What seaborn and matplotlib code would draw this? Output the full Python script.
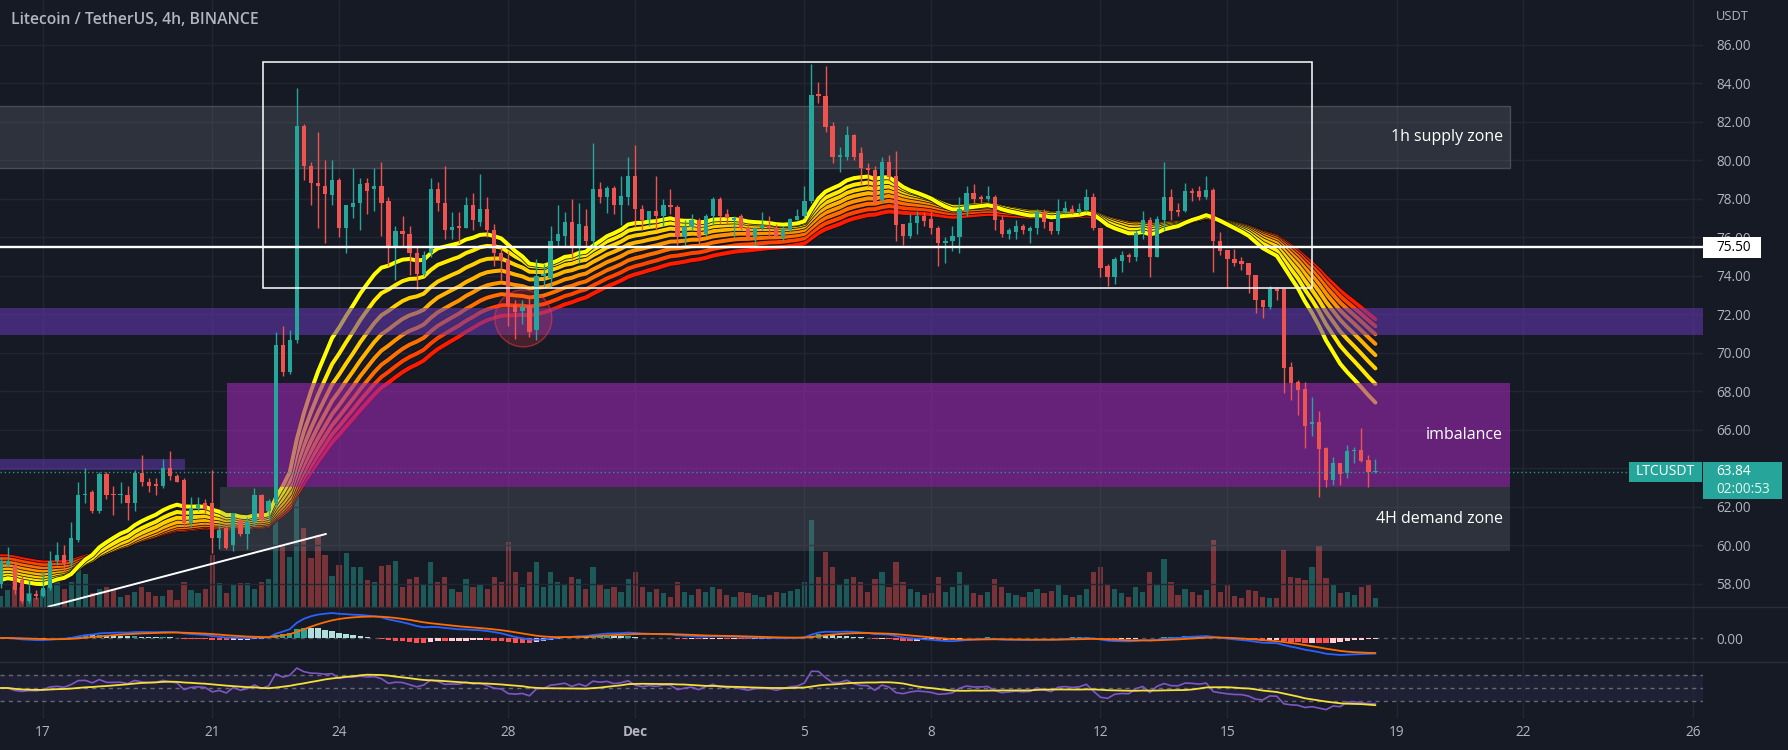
import numpy as np
import pandas as pd
import matplotlib
matplotlib.use("Agg")
import matplotlib.pyplot as plt
import matplotlib.patheffects as pe
import matplotlib.transforms as mtransforms
from matplotlib.patches import Rectangle, Ellipse
from matplotlib.lines import Line2D
import seaborn as sns

# ---------------- data (LTC/USDT 4h candles) ----------------
opens = [
    58.0, 59.0, 59.0, 58.2, 57.1, 57.5, 57.4, 57.8, 59.2, 59.5,
    59.1, 60.3, 62.6, 62.8, 61.8, 63.7, 62.7, 62.6, 62.6, 62.2,
    63.75, 63.3, 63.2, 63.1, 64.0, 63.6, 63.4, 61.15, 61.9, 62.2,
    62.2, 60.37, 60.9, 60.0, 61.3, 60.6, 61.2, 62.6, 61.8, 62.2,
    70.4, 69.0, 70.7, 81.8, 79.7, 78.85, 78.7, 78.2, 79.0, 76.5,
    77.6, 77.8, 78.85, 78.5, 78.7, 77.9, 75.5, 76.35, 76.2, 75.2,
    74.1, 75.2, 78.5, 77.8, 76.4, 76.6, 76.5, 77.7, 76.8, 77.5,
    76.4, 75.2, 74.85, 72.5, 72.2, 72.5, 71.2, 74.0, 73.9, 75.8,
    76.1, 76.8, 75.5, 76.6, 75.8, 78.5, 78.1, 78.55, 77.7, 78.1,
    79.2, 77.5, 76.9, 77.4, 77.1, 77.7, 77.6, 76.0, 76.55, 76.9,
    76.2, 77.1, 78.0, 77.2, 76.9, 77.1, 76.5, 76.0, 76.5, 76.6,
    76.5, 76.0, 76.4, 76.9, 77.1, 77.9, 83.45, 83.35, 81.8, 80.2,
    80.2, 81.3, 80.4, 79.6, 79.5, 77.95, 79.9, 79.2, 76.7, 76.1,
    76.75, 77.1, 76.95, 76.5, 75.7, 75.8, 76.05, 77.4, 78.3, 78.1,
    78.0, 78.1, 76.9, 76.2, 76.3, 76.6, 76.35, 76.5, 77.3, 76.8,
    76.35, 77.35, 77.5, 77.3, 77.45, 78.1, 76.5, 74.5, 73.96, 74.8,
    75.1, 75.0, 76.25, 76.9, 75.0, 76.9, 78.1, 77.45, 77.4, 78.4,
    78.4, 78.1, 78.45, 75.8, 75.35, 74.9, 74.8, 74.7, 74.05, 72.75,
    72.4, 73.3, 73.3, 69.25, 68.5, 68.15, 66.3, 66.4, 65.05, 63.4,
    64.3, 63.75, 64.9, 64.95, 64.45, 63.8,
]
highs = [
    59.4, 59.9, 59.2, 58.4, 58.2, 57.7, 58.6, 59.7, 60.2, 60.0,
    61.2, 63.3, 64.0, 62.9, 63.8, 63.8, 63.1, 63.3, 63.1, 63.9,
    64.7, 63.5, 63.5, 64.5, 64.9, 63.7, 63.5, 62.5, 62.5, 62.4,
    63.9, 61.15, 61.0, 61.7, 61.4, 61.5, 63.0, 62.7, 62.4, 71.1,
    71.4, 71.2, 83.75, 81.9, 79.9, 81.5, 80.0, 80.0, 79.1, 77.7,
    79.6, 79.1, 79.1, 79.6, 79.9, 78.1, 76.6, 77.1, 76.6, 75.5,
    75.3, 79.1, 78.9, 79.7, 77.3, 77.3, 78.1, 78.3, 79.3, 78.1,
    76.7, 75.5, 75.3, 72.75, 72.75, 72.8, 74.9, 74.6, 76.6, 77.7,
    77.3, 78.0, 77.8, 77.5, 80.9, 78.9, 78.7, 78.7, 79.2, 80.2,
    80.8, 77.7, 77.4, 79.2, 78.0, 78.5, 77.7, 76.9, 77.2, 77.0,
    77.2, 78.1, 78.1, 77.5, 77.1, 77.2, 76.7, 76.5, 77.3, 77.1,
    76.7, 76.6, 77.0, 77.5, 78.7, 85.0, 84.1, 84.9, 82.0, 80.7,
    81.8, 81.4, 80.7, 79.85, 79.7, 80.2, 80.3, 80.5, 76.7, 77.2,
    77.4, 77.3, 77.4, 76.6, 76.0, 76.6, 78.1, 78.7, 78.8, 78.2,
    78.7, 78.2, 77.1, 76.5, 76.9, 76.7, 76.6, 77.5, 77.5, 76.8,
    78.0, 77.9, 77.7, 77.8, 78.5, 78.3, 76.5, 74.6, 75.0, 75.3,
    75.2, 76.4, 77.4, 77.05, 77.1, 79.94, 78.5, 77.8, 78.85, 78.55,
    78.7, 79.2, 78.55, 76.3, 75.35, 75.4, 75.0, 74.7, 74.05, 72.75,
    73.5, 73.45, 73.36, 69.55, 68.6, 68.5, 67.7, 67.0, 65.1, 64.6,
    64.3, 65.2, 65.1, 66.1, 64.7, 64.5,
]
lows = [
    57.8, 58.9, 57.5, 57.0, 57.0, 57.2, 57.3, 57.7, 59.0, 58.6,
    58.9, 60.2, 62.2, 61.7, 61.7, 62.4, 61.6, 62.2, 61.3, 61.8,
    63.1, 62.8, 62.6, 63.0, 63.4, 63.3, 60.97, 60.97, 61.8, 61.7,
    59.6, 59.8, 59.8, 59.7, 60.5, 59.8, 61.0, 61.2, 61.3, 62.0,
    68.8, 68.9, 70.5, 79.0, 77.7, 76.5, 75.7, 77.7, 76.0, 75.2,
    77.0, 76.4, 77.2, 77.4, 76.1, 74.5, 73.8, 75.5, 74.05, 73.3,
    74.0, 75.0, 77.4, 75.9, 75.9, 75.7, 76.5, 76.4, 76.6, 76.0,
    74.5, 73.8, 71.4, 70.75, 71.5, 70.85, 70.7, 73.4, 73.4, 75.5,
    75.5, 74.9, 74.7, 75.5, 75.4, 77.8, 77.25, 77.2, 76.65, 77.7,
    76.56, 76.4, 76.6, 76.4, 76.6, 77.2, 75.6, 75.6, 76.4, 75.6,
    76.1, 76.7, 76.7, 76.7, 76.0, 76.4, 75.9, 75.5, 76.4, 76.0,
    76.0, 75.8, 76.3, 76.9, 77.0, 77.8, 83.0, 81.5, 79.85, 79.4,
    80.0, 80.0, 78.8, 78.6, 77.75, 77.8, 79.0, 75.8, 75.6, 75.95,
    76.2, 76.6, 76.2, 74.5, 74.7, 75.3, 75.2, 77.1, 77.8, 77.8,
    77.9, 76.4, 76.0, 75.9, 75.9, 76.2, 75.7, 76.2, 76.5, 76.2,
    76.2, 77.2, 77.2, 77.2, 77.35, 76.4, 73.96, 73.5, 73.6, 74.2,
    74.75, 74.8, 75.9, 73.96, 75.0, 76.4, 76.9, 77.1, 77.3, 77.9,
    77.95, 78.0, 74.2, 75.1, 73.45, 74.5, 74.3, 73.1, 72.06, 71.8,
    72.3, 72.75, 67.9, 67.56, 66.8, 65.05, 65.7, 62.54, 63.06, 63.15,
    63.15, 63.5, 64.3, 64.35, 63.06, 63.75,
]
closes = [
    59.2, 59.2, 57.7, 57.1, 57.5, 57.4, 57.8, 59.2, 59.5, 59.1,
    60.4, 62.6, 62.7, 61.8, 63.7, 62.6, 62.6, 62.7, 62.2, 63.75,
    63.3, 63.1, 63.1, 64.0, 63.6, 63.3, 61.15, 61.93, 62.1, 61.9,
    60.37, 60.81, 59.85, 61.7, 60.6, 61.2, 62.6, 61.3, 62.3, 70.4,
    69.0, 70.7, 81.8, 79.7, 78.85, 78.7, 78.26, 79.0, 76.5, 77.7,
    77.8, 78.8, 78.4, 78.7, 77.8, 75.5, 76.35, 76.2, 75.2, 74.1,
    75.1, 78.5, 77.8, 76.4, 76.55, 76.5, 77.7, 76.9, 77.5, 76.4,
    75.2, 74.85, 72.45, 72.15, 72.4, 71.1, 74.0, 74.1, 75.8, 76.2,
    76.8, 75.5, 76.7, 75.8, 78.5, 78.1, 78.55, 77.7, 78.15, 79.2,
    77.5, 76.9, 77.4, 77.1, 77.7, 77.6, 76.0, 76.55, 76.9, 76.0,
    77.1, 78.0, 77.1, 77.0, 77.0, 76.5, 76.05, 76.5, 76.6, 76.5,
    76.1, 76.45, 76.95, 77.1, 77.9, 83.4, 83.35, 81.75, 80.2, 80.25,
    81.3, 80.2, 79.6, 79.5, 77.85, 79.9, 79.15, 76.65, 76.1, 76.75,
    77.1, 76.85, 76.5, 75.7, 75.8, 76.1, 77.5, 78.3, 78.0, 78.0,
    78.15, 76.9, 76.2, 76.4, 76.6, 76.4, 76.5, 77.3, 76.8, 76.35,
    77.4, 77.55, 77.35, 77.5, 78.1, 76.5, 74.4, 73.96, 74.9, 75.1,
    75.0, 76.25, 76.9, 75.0, 76.96, 78.1, 77.4, 77.35, 78.4, 78.3,
    78.1, 78.45, 75.8, 75.3, 74.9, 74.65, 74.6, 74.05, 72.75, 72.4,
    73.3, 73.2, 69.2, 68.46, 68.1, 66.2, 66.4, 65.0, 63.4, 64.3,
    63.7, 64.9, 64.95, 64.4, 63.84, 63.84,
]
volumes = [
    11, 17, 27, 20, 14, 9, 17, 30, 25, 18,
    25, 39, 33, 14, 18, 20, 17, 10, 12, 15,
    20, 15, 11, 11, 17, 7, 25, 17, 14, 18,
    52, 24, 14, 23, 24, 24, 18, 25, 28, 110,
    61, 50, 130, 79, 49, 72, 52, 31, 42, 54,
    40, 40, 27, 25, 41, 42, 46, 20, 28, 30,
    22, 45, 25, 30, 18, 15, 28, 20, 22, 18,
    30, 25, 65, 35, 20, 35, 45, 20, 35, 25,
    22, 30, 28, 18, 40, 22, 18, 20, 15, 28,
    35, 20, 15, 18, 14, 10, 25, 15, 12, 18,
    15, 20, 18, 12, 10, 15, 14, 12, 10, 12,
    15, 14, 16, 18, 25, 87, 30, 55, 40, 22,
    28, 30, 25, 15, 28, 35, 20, 45, 25, 18,
    15, 12, 14, 30, 15, 20, 35, 22, 14, 12,
    15, 28, 20, 14, 12, 10, 15, 18, 14, 16,
    22, 12, 10, 12, 18, 35, 40, 22, 18, 14,
    10, 20, 15, 35, 22, 48, 25, 12, 18, 15,
    12, 17, 67, 15, 23, 11, 9, 17, 16, 10,
    9, 9, 57, 30, 29, 27, 40, 62, 29, 23,
    14, 15, 12, 20, 22, 9,
]
ema_lengths = [20, 25, 30, 35, 40, 45, 50, 55]
ema_start = [58.1, 58.3, 58.5, 58.7, 58.9, 59.1, 59.3, 59.45]

tick_days = [0, 4, 7, 11, 14, 18, 21, 25, 28, 32, 35, 39]
tick_labels = ["17", "21", "24", "28", "Dec", "5", "8", "12", "15", "19", "22", "26"]
price_ticks = [58, 60, 62, 64, 66, 68, 70, 72, 74, 76, 78, 80, 82, 84, 86]

supply_zone = (79.6, 82.83)
imbalance_zone = (63.02, 68.43)
demand_zone = (59.73, 63.02)
purple_band = (70.94, 72.34)
left_band = (63.9, 64.5)
range_box = (73.36, 85.13)
key_level = 75.50
last_price = 63.84
trend_line = [56.82, 60.6]

# ---------------- style ----------------
BG = "#161a25"
GRID = "#222633"
TXT = "#b2b5be"
UP = "#26a69a"
DN = "#ef5350"

sns.set_theme(style="dark", rc={"axes.facecolor": BG, "figure.facecolor": BG})
plt.rcParams["font.family"] = ["Open Sans", "DejaVu Sans"]

W, H = 1788, 750
PX_DAY = 42.3
X0 = 43.0  # pixel of Nov 17 00:00
XR = 1703.0  # right edge of plot panes


def rect(top, bottom):
    return [0, 1 - bottom / H, XR / W, (bottom - top) / H]


fig = plt.figure(figsize=(W / 100, H / 100), dpi=100)
ax = fig.add_axes(rect(0, 607))
axm = fig.add_axes(rect(607, 662), sharex=ax)
axr = fig.add_axes(rect(662, 718), sharex=ax)
axv = ax.twinx()
axv.set_zorder(0)
ax.set_zorder(1)
ax.patch.set_visible(False)
axv.patch.set_visible(False)

n = len(closes)
t = -1 + np.arange(n) / 6.0
o = np.array(opens); h = np.array(highs); l = np.array(lows); c = np.array(closes)
up = c >= o
ccol = np.where(up, UP, DN)

xmin = -X0 / PX_DAY
xmax = (XR - X0) / PX_DAY
ymax = 86 + 45 / 19.25
ymin = 86 - (607 - 45) / 19.25

for a in (ax, axm, axr, axv):
    a.set_xlim(xmin, xmax)
    for s in a.spines.values():
        s.set_visible(False)

# volume
axv.set_ylim(0, 607)
vcol = [(*matplotlib.colors.to_rgb(cc), 0.45) for cc in ccol]
axv.bar(t, volumes, width=0.125, color=vcol, linewidth=0)
axv.set_yticks([])
axv.tick_params(right=False, labelright=False, bottom=False, labelbottom=False)

# main pane
ax.set_ylim(ymin, ymax)
ax.set_yticks(price_ticks)
ax.set_yticklabels([f"{p:.2f}" for p in price_ticks])
ax.yaxis.tick_right()
ax.tick_params(axis="y", length=0, pad=9.4, labelcolor=TXT, labelsize=9.8)
ax.set_xticks(tick_days)
ax.tick_params(axis="x", length=0, labelbottom=False)
ax.grid(True, color=GRID, lw=1)

# EMA ribbon
cs = pd.Series(closes)
ribbon_cols = ["#ffff00", "#ffea00", "#ffd000", "#ffb400", "#ff9200", "#ff6e00", "#ff4400", "#ff1a00"]
emas = []
for L, s0 in zip(ema_lengths, ema_start):
    a = 2.0 / (L + 1)
    v = s0
    vals = []
    for cl in closes:
        v = v + a * (cl - v)
        vals.append(v)
    emas.append(np.array(vals))
for e, col in list(zip(emas, ribbon_cols))[::-1]:
    sns.lineplot(x=t, y=e, ax=ax, color=col, lw=2.9, zorder=2, sort=False, estimator=None,
                 path_effects=[pe.Stroke(linewidth=4.0, foreground="#0d0f16"), pe.Normal()])

# zones
XL = xmin - 1
XZ = (1510 - X0) / PX_DAY
gray_fc = (120 / 255, 123 / 255, 134 / 255, 0.25)
gray_ec = (120 / 255, 123 / 255, 134 / 255, 0.45)
ax.add_patch(Rectangle((XL, supply_zone[0]), XZ - XL, supply_zone[1] - supply_zone[0],
                       fc=gray_fc, ec=gray_ec, lw=1, zorder=3))
ax.add_patch(Rectangle(((220 - X0) / PX_DAY, demand_zone[0]), XZ - (220 - X0) / PX_DAY,
                       demand_zone[1] - demand_zone[0], fc=gray_fc, ec="none", lw=0, zorder=3))
ax.add_patch(Rectangle(((227 - X0) / PX_DAY, imbalance_zone[0]), XZ - (227 - X0) / PX_DAY,
                       imbalance_zone[1] - imbalance_zone[0],
                       fc=(156 / 255, 39 / 255, 176 / 255, 0.6), ec="none", zorder=3))
ax.add_patch(Rectangle((XL, purple_band[0]), xmax + 2 - XL, purple_band[1] - purple_band[0],
                       fc=(103 / 255, 58 / 255, 183 / 255, 0.55), ec="none", zorder=3))
ax.add_patch(Rectangle((XL, left_band[0]), (185 - X0) / PX_DAY - XL, left_band[1] - left_band[0],
                       fc=(103 / 255, 58 / 255, 183 / 255, 0.5), ec="none", zorder=3))
ax.add_patch(Ellipse(((523.3 - X0) / PX_DAY, 71.8), 57 / PX_DAY, 57 / 19.25,
                     fc=(242 / 255, 54 / 255, 69 / 255, 0.22), ec=(242 / 255, 54 / 255, 69 / 255, 0.55),
                     lw=1, zorder=3.5))

# candles
ax.vlines(t, l, h, colors=ccol, lw=1.0, zorder=4)
body_lo = np.minimum(o, c)
body_h = np.maximum(np.abs(c - o), 0.06)
ax.bar(t, body_h, bottom=body_lo, width=0.1, color=ccol, linewidth=0, zorder=5)

# drawings
ax.add_patch(Rectangle(((262.7 - X0) / PX_DAY, range_box[0]), (1312 - 262.7) / PX_DAY,
                       range_box[1] - range_box[0], fill=False, ec="white", lw=1.1, zorder=6))
ax.axhline(key_level, color="white", lw=1.7, zorder=6)
ax.axhline(last_price, color=UP, lw=1, ls=(0, (1, 2)), zorder=6, alpha=0.9)
ax.plot([(48.3 - X0) / PX_DAY, (326 - X0) / PX_DAY], trend_line, color="white", lw=1.4, zorder=6)

XT = (1503 - X0) / PX_DAY
ax.text(XT, 81.22, "1h supply zone", ha="right", va="center", color="white", fontsize=11.5, zorder=7)
ax.text(XT, 65.74, "imbalance", ha="right", va="center", color="white", fontsize=11.5, zorder=7)
ax.text(XT, 61.38, "4H demand zone", ha="right", va="center", color="white", fontsize=11.5, zorder=7)

# right-side price labels
bt = mtransforms.blended_transform_factory(ax.transAxes, ax.transData)
ax.add_patch(Rectangle((1.0, key_level - 10.5 / 19.25), 58 / XR, 21 / 19.25, transform=bt,
                       fc="white", ec="none", clip_on=False, zorder=10))
ax.text(1716 / XR, key_level, f"{key_level:.2f}", transform=bt, ha="left", va="center",
        color="black", fontsize=9.8, zorder=11, clip_on=False)
ax.add_patch(Rectangle((1629 / XR, 63.30), (1702 - 1629) / XR, 20 / 19.25, transform=bt,
                       fc=UP, ec="none", clip_on=False, zorder=10))
ax.text(1665.5 / XR, 63.82, "LTCUSDT", transform=bt, ha="center", va="center",
        color="white", fontsize=10, zorder=11, clip_on=False)
ax.add_patch(Rectangle((1.0, 62.42), (1782 - XR) / XR, 37 / 19.25, transform=bt,
                       fc=UP, ec="none", clip_on=False, zorder=10))
ax.text(1716 / XR, 63.82, f"{last_price:.2f}", transform=bt, ha="left", va="center",
        color="white", fontsize=9.8, zorder=11, clip_on=False)
ax.text(1716 / XR, 62.93, "02:00:53", transform=bt, ha="left", va="center",
        color="#e8f5f3", fontsize=9.8, zorder=11, clip_on=False)

fig.text(11 / W, 1 - 20 / H, "Litecoin / TetherUS, 4h, BINANCE", ha="left", va="center",
         color=TXT, fontsize=11.3, fontweight="semibold")
fig.text(1716 / W, 1 - 17 / H, "USDT", ha="left", va="center", color=TXT, fontsize=9.3)

# ---------------- MACD ----------------
macd = cs.ewm(span=12, adjust=False).mean() - cs.ewm(span=26, adjust=False).mean()
signal = macd.ewm(span=9, adjust=False).mean()
hist = (macd - signal).values
prev = np.r_[hist[0], hist[:-1]]
hcol = np.where(hist >= 0, np.where(hist >= prev, "#26a69a", "#b2dfdb"),
                np.where(hist <= prev, "#ff5252", "#ffcdd2"))
axm.bar(t, hist, width=0.13, color=hcol, linewidth=0, zorder=2)
sns.lineplot(x=t, y=macd.values, ax=axm, color="#2962ff", lw=1.3, zorder=3, sort=False, estimator=None)
sns.lineplot(x=t, y=signal.values, ax=axm, color="#ff6d00", lw=1.3, zorder=3, sort=False, estimator=None)
axm.axhline(0, color="#787b86", lw=1, ls=(0, (3, 3)), alpha=0.6, zorder=1)
mtop = float(np.nanmax(macd.values))
axm.set_ylim(-mtop * 24 / 25, mtop * 31 / 25)
axm.set_yticks([0])
axm.set_yticklabels(["0.00"])
axm.yaxis.tick_right()
axm.tick_params(axis="y", length=0, pad=9.4, labelcolor=TXT, labelsize=9.8)
axm.tick_params(axis="x", length=0, labelbottom=False)
axm.grid(True, axis="x", color=GRID, lw=1)
axm.grid(False, axis="y")
axm.set_ylabel("")

# ---------------- RSI (Wilder, 14) ----------------
diffs = np.diff(c, prepend=c[0])
seed = float(np.mean(np.abs(diffs[1:15])))
ag, al = seed, seed
rsi_vals = []
for d in diffs:
    ag = ag + (max(d, 0.0) - ag) / 14.0
    al = al + (max(-d, 0.0) - al) / 14.0
    rsi_vals.append(100.0 - 100.0 / (1.0 + ag / al) if al > 0 else 100.0)
rsi = pd.Series(rsi_vals)
rsi_ma = rsi.rolling(14, min_periods=1).mean()
axr.axhspan(30, 70, color=(126 / 255, 87 / 255, 194 / 255, 0.1), lw=0, zorder=0)
for lev in (70, 50, 30):
    axr.axhline(lev, color="#787b86", lw=1, ls=(0, (3, 3)), alpha=0.8, zorder=1)
sns.lineplot(x=t, y=rsi.values, ax=axr, color="#7e57c2", lw=1.2, zorder=3, sort=False, estimator=None)
sns.lineplot(x=t, y=rsi_ma.values, ax=axr, color="#f5e13b", lw=1.3, zorder=4, sort=False, estimator=None)
axr.set_ylim(50 - 30 / 0.65, 50 + 26 / 0.65)
axr.set_yticks([])
axr.set_xticks(tick_days)
axr.set_xticklabels(tick_labels)
axr.tick_params(axis="x", length=0, pad=5, labelcolor=TXT, labelsize=9.8, labelbottom=True)
for lab in axr.get_xticklabels():
    if lab.get_text() == "Dec":
        lab.set_fontweight("bold")
axr.grid(True, axis="x", color=GRID, lw=1)
axr.grid(False, axis="y")
axr.set_ylabel("")
axr.set_xlabel("")
ax.set_ylabel(""); ax.set_xlabel(""); axm.set_xlabel("")

for yy in (607, 662):
    fig.add_artist(Line2D([0, 1], [1 - yy / H, 1 - yy / H], color="#2a2e39", lw=1))

fig.savefig("out.png", dpi=100, facecolor=BG)
